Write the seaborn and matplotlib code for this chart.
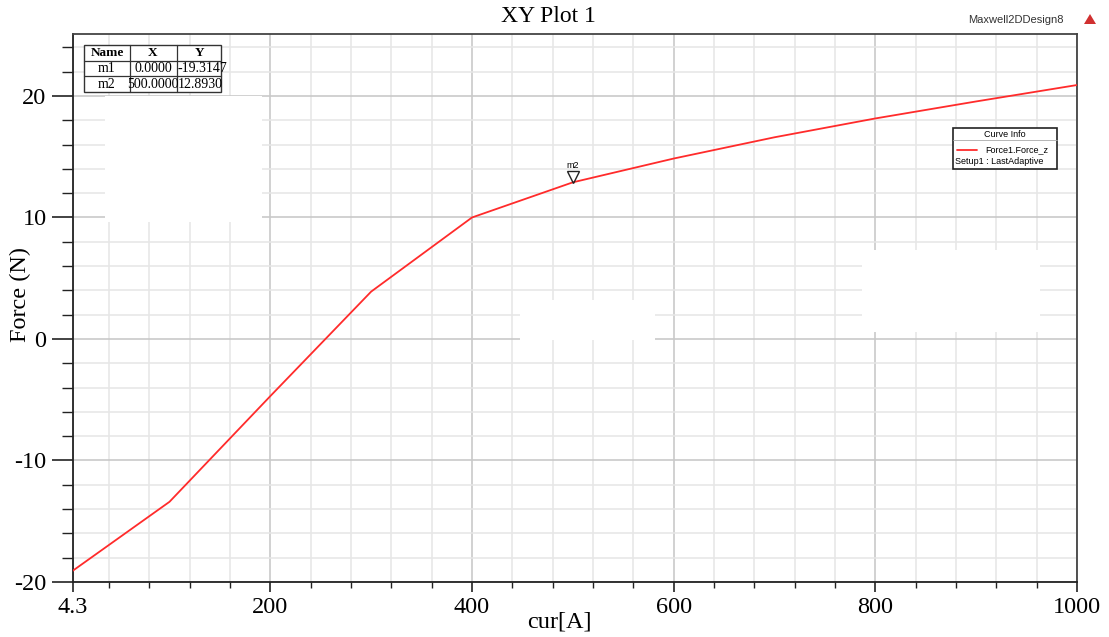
import numpy as np
import pandas as pd
import seaborn as sns
import matplotlib
matplotlib.use("Agg")
import matplotlib.pyplot as plt
from matplotlib.patches import Rectangle, Polygon
from matplotlib.lines import Line2D
from matplotlib.ticker import MultipleLocator, FixedLocator
import matplotlib.transforms as mtrans

# ---------------- data ----------------
current = [0, 100, 200, 300, 400, 500, 600, 700, 800, 900, 1000]
force = [-19.3147, -13.4, -4.7, 3.9, 10.0, 12.893, 14.85, 16.6, 18.15, 19.55, 20.9]

x_major = [4.3, 200, 400, 600, 800, 1000]
x_major_labels = ["4.3", "200", "400", "600", "800", "1000"]
y_major = [-20, -10, 0, 10, 20]
y_major_labels = ["-20", "-10", "0", "10", "20"]

marker_names = ["m1", "m2"]
marker_x = [0.0, 500.0]
marker_y = [-19.3147, 12.8930]
marker_x_text = ["0.0000", "500.0000"]
marker_y_text = ["-19.3147", "12.8930"]

curve_name = "Force1.Force_z"
setup_name = "Setup1 : LastAdaptive"

# ---------------- style ----------------
sns.set_theme(style="white")
plt.rcParams['font.family'] = ['Liberation Serif', 'DejaVu Serif']
plt.rcParams['text.color'] = 'black'
plt.rcParams['axes.labelcolor'] = 'black'
plt.rcParams['xtick.color'] = 'black'
plt.rcParams['ytick.color'] = 'black'

W, H = 1109, 637
fig = plt.figure(figsize=(W / 100, H / 100), dpi=100)

def fx(x):
    return x / W

def fy(y):
    return 1 - y / H

L, R, T, B = 73, 1077, 34, 582
ax = fig.add_axes([fx(L), fy(B), fx(R) - fx(L), fy(T) - fy(B)])

df = pd.DataFrame({"cur": current, "force": force})

ax.set_xlim(4.3, 1000)
ax.set_ylim(-20, 25.1)

# grid
ax.xaxis.set_major_locator(FixedLocator(x_major))
ax.xaxis.set_minor_locator(MultipleLocator(40))
ax.yaxis.set_major_locator(FixedLocator(y_major))
ax.yaxis.set_minor_locator(MultipleLocator(2))
ax.set_xticklabels(x_major_labels)
ax.set_yticklabels(y_major_labels)
ax.grid(which="minor", color="#e6e6e6", lw=1.1, zorder=0)
ax.grid(which="major", color="#c9c9c9", lw=1.2, zorder=0)
ax.set_axisbelow(True)

# white blank patches present in reference
for (x0, y0, x1, y1) in [(105, 96, 262, 222), (520, 300, 655, 340), (862, 250, 1040, 332)]:
    fig.add_artist(Rectangle((fx(x0), fy(y1)), fx(x1) - fx(x0), fy(y0) - fy(y1),
                             transform=fig.transFigure, facecolor="white",
                             edgecolor="none", zorder=0.5))

sns.lineplot(data=df, x="cur", y="force", color="#ff2b2b", lw=1.3, ax=ax,
             zorder=3, estimator=None, sort=False)

ax.set_xlabel("cur[A]", fontsize=17.5)
ax.set_ylabel("Force (N)", fontsize=17.5)
ax.xaxis.set_label_coords((559 - L) / (R - L), -(622 - B) / (B - T))
ax.xaxis.label.set_va("center")
ax.yaxis.set_label_coords((20 - L) / (R - L), (B - 295) / (B - T))
ax.yaxis.label.set_va("center")
ax.yaxis.label.set_ha("center")

ax.tick_params(axis="x", which="major", direction="out", length=7, width=1.2,
               color="#222222", labelsize=17.5, pad=4, bottom=True)
ax.tick_params(axis="x", which="minor", direction="out", length=4, width=1.0,
               color="#222222", bottom=True)
ax.tick_params(axis="y", which="major", direction="out", length=15, width=1.2,
               color="#222222", labelsize=17.5, pad=4, left=True)
ax.tick_params(axis="y", which="minor", direction="out", length=8, width=1.0,
               color="#222222", left=True)

for s in ["left", "bottom"]:
    ax.spines[s].set_color("#222222")
    ax.spines[s].set_linewidth(1.3)
for s in ["top", "right"]:
    ax.spines[s].set_color("#444444")
    ax.spines[s].set_linewidth(1.3)

# m2 marker
mx, my = marker_x[1], marker_y[1]
off = mtrans.offset_copy(ax.transData, fig=fig, x=0, y=5, units="dots")
ax.plot([mx], [my], marker="v", markersize=9, markerfacecolor="none",
        markeredgecolor="#222222", markeredgewidth=1.0, transform=off, zorder=4)
off2 = mtrans.offset_copy(ax.transData, fig=fig, x=0, y=17, units="dots")
ax.text(mx, my, marker_names[1], transform=off2, ha="center", va="center",
        fontsize=6.5, family=["Liberation Sans", "DejaVu Sans"], zorder=4)

# title and header texts
fig.text(fx(548), fy(17), "XY Plot 1", ha="center", va="center", fontsize=17)
fig.text(fx(1016), fy(20), "Maxwell2DDesign8", ha="center", va="center", fontsize=8,
         family=["Liberation Sans", "DejaVu Sans"], color="#333333")
fig.add_artist(Polygon([[fx(1084), fy(24)], [fx(1096), fy(24)], [fx(1090), fy(14)]],
                       closed=True, transform=fig.transFigure, facecolor="#d03030",
                       edgecolor="none"))

# marker table
tx = [84, 130, 177, 221]
ty = [45, 61, 76, 92]
fig.add_artist(Rectangle((fx(tx[0]), fy(ty[-1])), fx(tx[-1]) - fx(tx[0]), fy(ty[0]) - fy(ty[-1]),
                         transform=fig.transFigure, facecolor="white",
                         edgecolor="#333333", lw=1.0, zorder=5))
for xv in tx[1:-1]:
    fig.add_artist(Line2D([fx(xv), fx(xv)], [fy(ty[0]), fy(ty[-1])], transform=fig.transFigure,
                          color="#333333", lw=0.9, zorder=6))
for yv in ty[1:-1]:
    fig.add_artist(Line2D([fx(tx[0]), fx(tx[-1])], [fy(yv), fy(yv)], transform=fig.transFigure,
                          color="#333333", lw=0.9, zorder=6))
hdr = ["Name", "X", "Y"]
cx = [107, 153, 199]
for c, h in zip(cx, hdr):
    fig.text(fx(c), fy((ty[0] + ty[1]) / 2), h, ha="center", va="center", fontsize=9.5,
             fontweight="bold", zorder=7)
for i, (n, xs, ys) in enumerate(zip(marker_names, marker_x_text, marker_y_text)):
    yc = fy((ty[i + 1] + ty[i + 2]) / 2)
    fig.text(fx(cx[0]), yc, n, ha="center", va="center", fontsize=10, zorder=7)
    fig.text(fx(cx[1]), yc, xs, ha="center", va="center", fontsize=10, zorder=7)
    fig.text(fx(178), yc, ys, ha="left", va="center", fontsize=10, zorder=7)

# curve info box
sans = ["Liberation Sans", "DejaVu Sans"]
bx0, bx1, by0, by1 = 953, 1057, 128, 169
fig.add_artist(Rectangle((fx(bx0), fy(by1)), fx(bx1) - fx(bx0), fy(by0) - fy(by1),
                         transform=fig.transFigure, facecolor="white",
                         edgecolor="#222222", lw=1.2, zorder=5))
fig.add_artist(Line2D([fx(bx0), fx(bx1)], [fy(140), fy(140)], transform=fig.transFigure,
                      color="#aaaaaa", lw=0.6, zorder=6))
fig.text(fx(1005), fy(134), "Curve Info", ha="center", va="center", fontsize=6.5,
         family=sans, zorder=7)
fig.add_artist(Line2D([fx(957), fx(977)], [fy(150), fy(150)], transform=fig.transFigure,
                      color="#ff2b2b", lw=1.3, zorder=7))
fig.text(fx(985), fy(150), curve_name, ha="left", va="center", fontsize=6.5,
         family=sans, zorder=7)
fig.text(fx(955), fy(161), setup_name, ha="left", va="center", fontsize=6.5,
         family=sans, zorder=7)

fig.savefig("out.png", dpi=100)
